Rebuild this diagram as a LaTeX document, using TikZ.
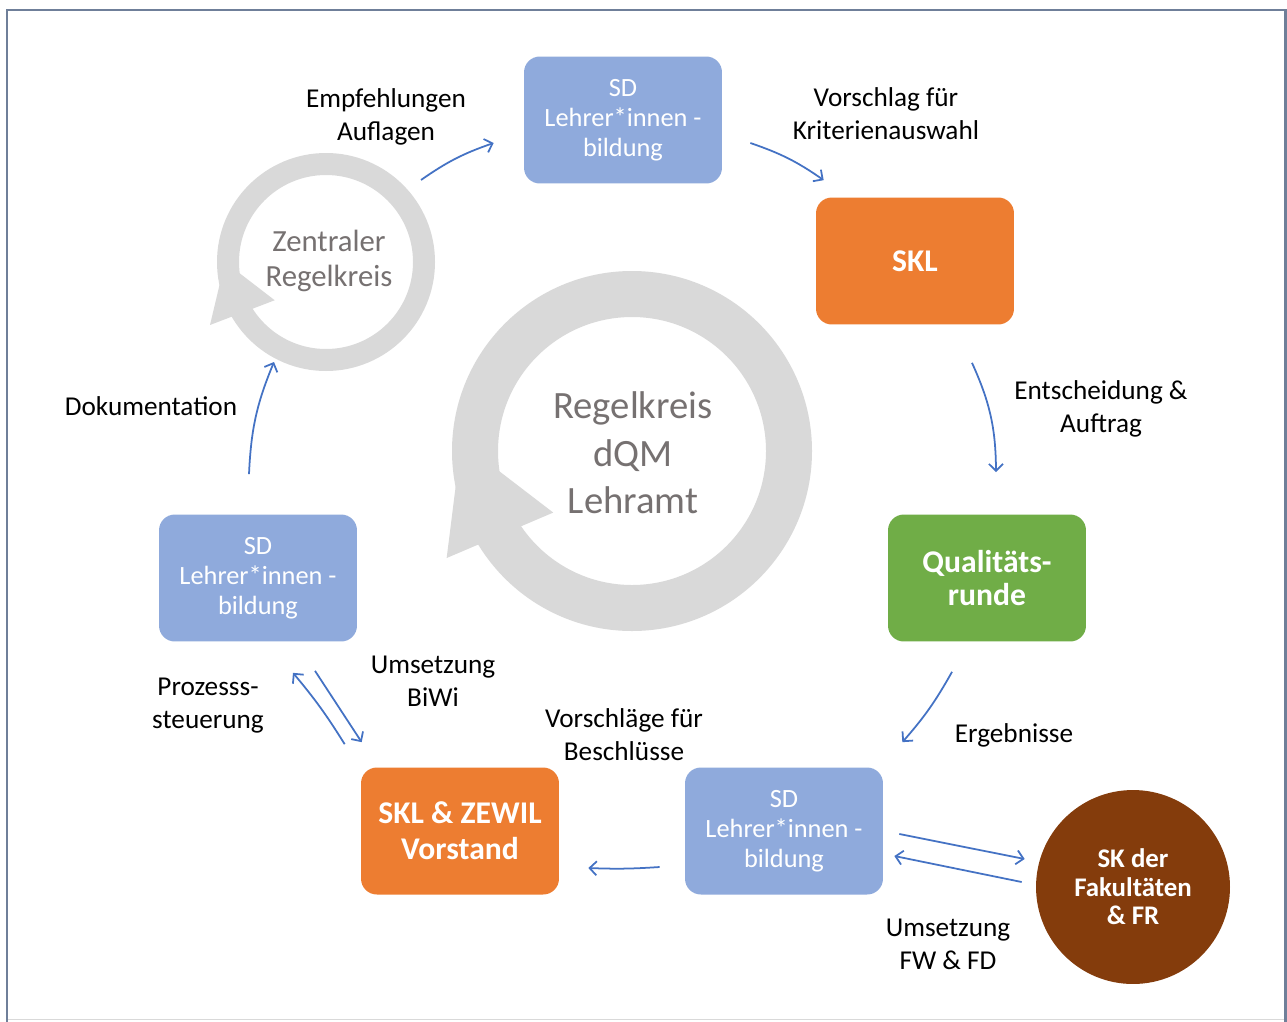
\documentclass[tikz,border=0pt]{standalone}
\usepackage{fontspec}
\setmainfont{Carlito}
\usetikzlibrary{calc,arrows.meta}
\definecolor{sdblue}{HTML}{8FAADC}
\definecolor{sklorange}{HTML}{ED7D31}
\definecolor{qrgreen}{HTML}{70AD47}
\definecolor{skbrown}{HTML}{843C0C}
\definecolor{ringgray}{HTML}{D9D9D9}
\definecolor{ringtext}{HTML}{767171}
\definecolor{flowblue}{HTML}{4472C4}
\definecolor{framegray}{HTML}{6F7F99}

\begin{document}
\begin{tikzpicture}[x=0.02cm,y=-0.02cm,>={Straight Barb[length=4pt,width=8pt]},
  box/.style={rectangle,rounded corners=9pt,minimum width=3.96cm,minimum height=2.54cm,text=white,align=center},
  sdbox/.style={box,fill=sdblue,font=\fontsize{15}{17}\selectfont},
  lbl/.style={align=center,font=\fontsize{15.5}{18.7}\selectfont},
  flow/.style={->,flowblue,line width=1pt}]
\useasboundingbox (0,0) rectangle (1287,1021);
\fill[white] (0,0) rectangle (1287,1021);
% frame
\draw[gray!30,line width=0.8pt] (7,1019.5) -- (1285,1019.5);
\draw[framegray,line width=1.7pt] (7,1030) -- (7,10) -- (1285,10) -- (1285,1030);

% the two rings
\fill[ringgray,even odd rule] (326,262) circle (109) (326,262) circle (87);
\fill[ringgray] ($(326,262)+(151.5:132)$) -- ($(326,262)+(180:101)$) -- ($(326,262)+(143.3:64)$) -- cycle;
\fill[ringgray,even odd rule] (632,451) circle (180) (632,451) circle (134);
\fill[ringgray] ($(632,451)+(150:214)$) -- ($(632,451)+(183:171)$) -- ($(632,451)+(142:100)$) -- cycle;
\node[text=ringtext,align=center,font=\fontsize{17.5}{20}\selectfont] (zr) at (329,261) {Zentraler\\Regelkreis};
\node[text=ringtext,align=center,font=\fontsize{22}{27}\selectfont] (rk) at (633,453) {Regelkreis\\dQM\\Lehramt};

% boxes
\node[sdbox] (sdtop) at (623,120) {SD\\Lehrer*innen -\\bildung};
\node[box,fill=sklorange,font=\bfseries\fontsize{18}{20}\selectfont] (skl) at (915,261) {SKL};
\node[box,fill=qrgreen,font=\bfseries\fontsize{18}{19.3}\selectfont] (qr) at (987,578) {Qualitäts-\\runde};
\node[sdbox] (sdright) at (784,831) {SD\\Lehrer*innen -\\bildung};
\node[box,fill=sklorange,font=\bfseries\fontsize{18}{20.4}\selectfont] (vorst) at (460,831) {SKL \& ZEWIL\\Vorstand};
\node[sdbox] (sdleft) at (258,578) {SD\\Lehrer*innen -\\bildung};
\node[circle,fill=skbrown,minimum size=3.88cm,text=white,align=center,font=\bfseries\fontsize{15.3}{16.2}\selectfont] (sk) at (1133,887) {SK der\\Fakultäten\\\& FR};

% labels
\node[lbl] (empf) at (386,117) {Empfehlungen\\Auflagen};
\node[lbl] (vors) at (886,114) {Vorschlag für\\Kriterienauswahl};
\node[lbl] (ents) at (1101,409) {Entscheidung \&\\Auftrag};
\node[lbl] (erg) at (1014,735) {Ergebnisse};
\node[lbl] (umfw) at (948,944) {Umsetzung\\FW \& FD};
\node[lbl] (besch) at (624,735) {Vorschläge für\\Beschlüsse};
\node[lbl] (umbw) at (433,681) {Umsetzung\\BiWi};
\node[lbl] (proz) at (208,706) {Prozesss-\\steuerung};
\node[lbl] (doku) at (151,406) {Dokumentation};

% arrows
\draw[flow] ($(zr)+(92,-81)$) to[bend left=8] ($(sdtop.west)+(-30,23)$);
\draw[flow] ($(sdtop.east)+(28,23)$) to[bend left=8] ($(skl.north west)+(8,-17)$);
\draw[flow] ($(skl.south)+(57,38)$) to[bend left=12] ($(qr.north)+(9,-42)$);
\draw[flow] ($(qr.south)+(-35,30)$) to[bend left=6] ($(sdright.north east)+(19,-25)$);
\draw[flow] ($(sdright.east)+(16,3)$) -- ($(sk.west)+(-11,-28)$);
\draw[flow] ($(sk.west)+(-14,-5)$) -- ($(sdright.east)+(11,25)$);
\draw[flow] ($(sdright.west)+(-25,36)$) to[bend left=3] ($(vorst.east)+(29,37)$);
\draw[flow] ($(vorst.north west)+(-16,-23)$) to[bend right=4] ($(sdleft.south)+(35,31)$);
\draw[flow] ($(sdleft.south)+(57,29)$) -- ($(vorst.north west)+(1,-25)$);
\draw[flow] ($(sdleft.north)+(-9,-40)$) to[bend left=10] ($(zr)+(-55,101)$);
\end{tikzpicture}
\end{document}
